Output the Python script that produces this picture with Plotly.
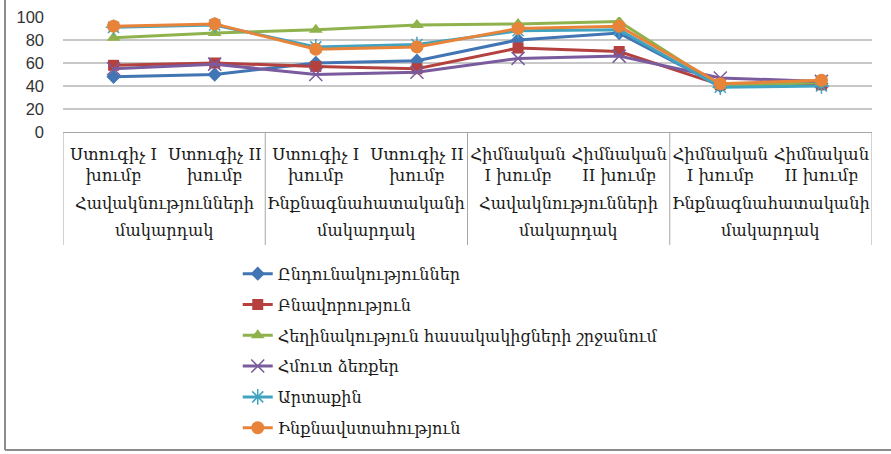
import plotly.graph_objects as go

categories = ["Ստուգիչ I<br>խումբ", "Ստուգիչ II<br>խումբ",
              "Ստուգիչ I<br>խումբ", "Ստուգիչ II<br>խումբ",
              "Հիմնական<br>I խումբ", "Հիմնական<br>II խումբ",
              "Հիմնական<br>I խումբ", "Հիմնական<br>II խումբ"]
groups = ["Հավակնությունների", "Ինքնագնահատականի",
          "Հավակնությունների", "Ինքնագնահատականի"]
group_suffix = "մակարդակ"

series_names = ["Ընդունակություններ", "Բնավորություն",
                "Հեղինակություն հասակակիցների շրջանում",
                "Հմուտ ձեռքեր", "Արտաքին", "Ինքնավստահություն"]
s_blue = [48, 50, 60, 62, 80, 86, 40, 42]
s_red = [58, 60, 57, 55, 73, 70, 41, 41]
s_green = [82, 86, 89, 93, 94, 96, 40, 43]
s_purple = [55, 59, 50, 52, 64, 66, 47, 44]
s_cyan = [91, 93, 74, 76, 88, 89, 39, 40]
s_orange = [92, 94, 72, 74, 90, 92, 42, 45]
yticks = [0, 20, 40, 60, 80, 100]

values = [s_blue, s_red, s_green, s_purple, s_cyan, s_orange]
colors = ["#4275B4", "#B4413E", "#8FB24D", "#7A5B9E", "#40A3C0", "#E8843A"]
symbols = ["diamond", "square", "triangle-up", "x-thin-open", "asterisk-open", "circle"]
sizes = [11, 11, 12, 13, 13, 13]

xpos = list(range(len(categories)))
ARM = "DejaVu Serif"
TXT = "#1a1a1a"

fig = go.Figure()
for i, (name, vals) in enumerate(zip(series_names, values)):
    mk = dict(symbol=symbols[i], size=sizes[i], color=colors[i])
    if "open" in symbols[i]:
        mk["line"] = dict(width=1.5, color=colors[i])
    fig.add_trace(go.Scatter(
        x=xpos, y=vals, name=name, mode="lines+markers",
        line=dict(color=colors[i], width=3), marker=mk,
        legendgroup=f"g{i}"))

shapes = []
for b in [-0.5, 1.5, 3.5, 5.5, 7.5]:
    shapes.append(dict(type="line", xref="x", yref="paper", x0=b, x1=b,
                       y0=0, y1=-0.983, line=dict(color="#A6A6A6", width=1)))
shapes.append(dict(type="line", xref="paper", yref="paper", x0=-0.0717, x1=-0.0717,
                   y0=1.2, y1=-2.765, line=dict(color="#8C8C8C", width=2)))
shapes.append(dict(type="line", xref="paper", yref="paper", x0=-0.0717, x1=1.03,
                   y0=-2.765, y1=-2.765, line=dict(color="#8C8C8C", width=2)))

annotations = []
for gi, g in enumerate(groups):
    annotations.append(dict(x=2 * gi + 0.5, xref="x", y=(132 - 203) / 115, yref="paper",
                            text=g, showarrow=False, yanchor="middle",
                            font=dict(family=ARM, size=16.2, color=TXT)))
    annotations.append(dict(x=2 * gi + 0.5, xref="x", y=(132 - 230) / 115, yref="paper",
                            text=group_suffix, showarrow=False, yanchor="middle",
                            font=dict(family=ARM, size=16.2, color=TXT)))

fig.update_layout(
    width=891, height=454,
    margin=dict(l=63, r=19, t=17, b=322, autoexpand=False),
    plot_bgcolor="white", paper_bgcolor="white",
    showlegend=True,
    legend=dict(x=0.216, y=-1.085, xanchor="left", yanchor="top",
                font=dict(family=ARM, size=16, color=TXT),
                traceorder="grouped", tracegroupgap=7, bgcolor="rgba(0,0,0,0)"),
    xaxis=dict(range=[-0.5, 7.5], tickmode="array", tickvals=xpos, ticktext=categories,
               showgrid=False, showline=True, linecolor="#A6A6A6", linewidth=1,
               ticks="", tickfont=dict(family=ARM, size=16.5, color=TXT),
               ticklabelstandoff=7, zeroline=False, automargin=False),
    yaxis=dict(range=[0, 100], tickmode="array", tickvals=yticks,
               showgrid=True, gridcolor="#C8C8C8", gridwidth=2,
               zeroline=False, showline=False, ticks="",
               tickfont=dict(family="Liberation Sans", size=16.5, color="#333333"),
               ticklabelstandoff=18, automargin=False),
    shapes=shapes, annotations=annotations,
)

fig.write_html("out.html", config={"displayModeBar": False},
               post_script="document.body.style.margin='0';")
